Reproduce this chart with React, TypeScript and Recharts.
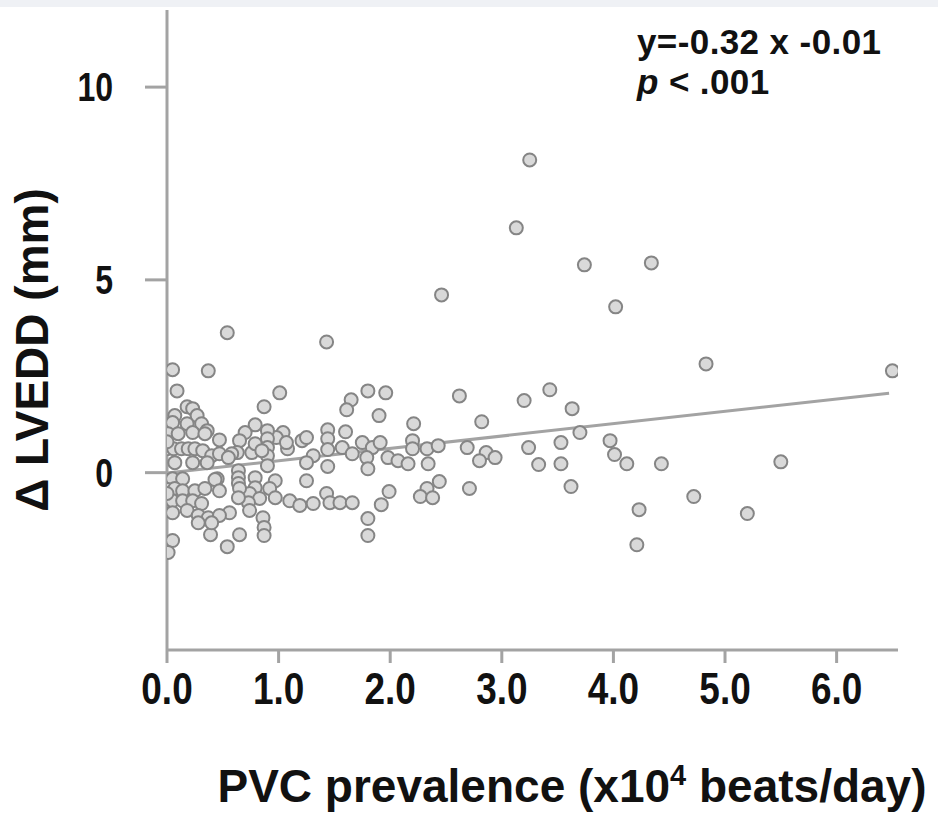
import React from "react";
import {
  ScatterChart,
  Scatter,
  XAxis,
  YAxis,
  ReferenceLine,
} from "recharts";

// PVC prevalence (x10^4 beats/day)
const pvcPrevalence = [
  3.25, 3.13, 3.74, 4.34, 2.46, 4.02, 4.83, 6.5, 0.54, 1.43,
  0.05, 0.37, 0.09, 1.01, 0.87, 1.8, 1.96, 1.65, 1.61, 0.18,
  0.23, 0.07, 0.27, 1.9, 2.21, 2.62, 3.2, 3.43, 3.63, 2.82,
  3.7, 2.69, 2.86, 2.8, 2.94, 3.24, 3.33, 3.53, 3.53, 3.97,
  4.01, 4.12, 4.43, 3.62, 4.23, 4.21, 4.72, 5.2, 5.5, 2.71,
  2.44, 2.33, 2.27, 2.38, 1.99, 1.92, 1.8, 1.8, 2.2, 2.2,
  2.33, 2.34, 2.43, 1.98, 2.07, 2.16, 1.44, 1.44, 1.6, 1.21,
  1.25, 1.08, 1.04, 1.31, 1.25, 1.44, 1.57, 1.44, 1.66, 1.75,
  1.84, 1.91, 1.79, 1.8, 0.98, 1.07, 0.9, 0.9, 0.9, 0.9,
  0.9, 0.79, 0.7, 0.65, 0.63, 0.76, 0.79, 1.25, 0.97, 0.92,
  0.97, 1.1, 1.19, 1.31, 1.43, 1.46, 1.55, 1.66, 0.79, 0.79,
  0.74, 0.83, 0.86, 0.87, 0.87, 0.64, 0.64, 0.64, 0.65, 0.45,
  0.65, 0.54, 0.39, 0.73, 0.64, 0.56, 0.74, 0.05, 0.18, 0.31,
  0.36, 0.01, 0.1, 0.23, 0.47, 0.34, 0.0, 0.06, 0.13, 0.19,
  0.25, 0.32, 0.4, 0.47, 0.58, 0.07, 0.23, 0.36, 0.55, 0.0,
  0.85, 0.0, 0.05, 0.14, 0.43, 0.01, 0.07, 0.14, 0.25, 0.34,
  0.47, 0.0, 0.05, 0.14, 0.23, 0.31, 0.05, 0.18, 0.28, 0.37,
  0.47, 0.28, 0.4, 0.05, 0.01, 0.0,
];

// change in LVEDD (mm), same order
const deltaLvedd = [
  8.11, 6.35, 5.39, 5.44, 4.61, 4.3, 2.82, 2.64, 3.63, 3.39,
  2.67, 2.64, 2.12, 2.07, 1.71, 2.12, 2.07, 1.89, 1.63, 1.71,
  1.66, 1.48, 1.48, 1.48, 1.27, 1.99, 1.87, 2.15, 1.66, 1.32,
  1.04, 0.65, 0.52, 0.31, 0.39, 0.65, 0.21, 0.78, 0.23, 0.83,
  0.47, 0.23, 0.23, -0.36, -0.96, -1.87, -0.62, -1.06, 0.28, -0.41,
  -0.23, -0.41, -0.62, -0.65, -0.49, -0.83, -1.19, -1.63, 0.83, 0.62,
  0.62, 0.23, 0.7, 0.39, 0.31, 0.23, 1.11, 0.88, 1.06, 0.83,
  0.91, 0.62, 1.04, 0.44, 0.26, 0.6, 0.65, 0.16, 0.49, 0.78,
  0.65, 0.78, 0.39, 0.1, 0.91, 0.78, 1.09, 0.88, 0.65, 0.44,
  0.18, 1.24, 1.04, 0.83, 0.52, 0.52, 0.75, -0.21, -0.21, -0.41,
  -0.65, -0.73, -0.85, -0.8, -0.54, -0.78, -0.78, -0.78, -0.13, -0.39,
  -0.54, -0.67, -1.17, -1.42, -1.63, 0.05, -0.13, -0.28, -0.41, -0.16,
  -1.61, -1.92, -1.61, -0.78, -0.65, -1.04, -0.98, 1.3, 1.27, 1.27,
  1.09, 1.01, 1.01, 1.04, 0.85, 1.01, 0.62, 0.62, 0.62, 0.62,
  0.62, 0.57, 0.44, 0.49, 0.49, 0.26, 0.26, 0.26, 0.39, 0.8,
  0.57, -0.21, -0.16, -0.16, -0.18, -0.44, -0.41, -0.47, -0.47, -0.41,
  -0.47, -0.73, -0.73, -0.73, -0.73, -0.8, -1.04, -0.98, -1.11, -1.17,
  -1.11, -1.3, -1.3, -1.76, -2.07, -0.54,
];

// fitted line end points
const fitX = [0, 6.47];
const fitY = [-0.01, 2.06];

const xTicks = [0, 1, 2, 3, 4, 5, 6];
const yTicks = [0, 5, 10];

const points = pvcPrevalence.map((x, i) => ({ x, y: deltaLvedd[i] }));

const FONT = '"Liberation Sans", Arial, sans-serif';
const AXIS = "#a3a3a3";

const dot = (p: any) => (
  <circle cx={p.cx} cy={p.cy} r={6.5} fill="#d9d9d9" stroke="#858585" strokeWidth={2} />
);

// tick labels in the source look a bit condensed, so squeeze them horizontally
const XTick = (p: any) => (
  <g transform={`translate(${p.x},${p.y}) scale(0.84,1)`}>
    <text x={0} y={0} dy={31} textAnchor="middle" fontSize={44} fontWeight={700} fill="#111" fontFamily={FONT}>
      {p.payload.value.toFixed(1)}
    </text>
  </g>
);

const YTick = (p: any) => (
  <g transform={`translate(${p.x},${p.y}) scale(0.8,1)`}>
    <text x={0} y={0} dy={14} textAnchor="end" fontSize={40} fontWeight={700} fill="#111" fontFamily={FONT}>
      {p.payload.value}
    </text>
  </g>
);

export default function App() {
  return (
    <div style={{ position: "absolute", left: 0, top: 0, width: 938, height: 826, background: "#fff" }}>
      <div style={{ position: "absolute", left: 0, top: 0, width: 938, height: 7, background: "#eff1f5" }} />
      <ScatterChart width={938} height={826} margin={{ top: 10, right: 40, bottom: 0, left: 0 }}>
        <XAxis
          type="number"
          dataKey="x"
          domain={[0, 6.55]}
          ticks={xTicks}
          height={176}
          tickSize={13}
          tickMargin={10}
          axisLine={{ stroke: AXIS, strokeWidth: 3 }}
          tickLine={{ stroke: AXIS, strokeWidth: 3 }}
          tick={<XTick />}
          allowDataOverflow
        />
        <YAxis
          type="number"
          dataKey="y"
          domain={[-4.6, 12]}
          ticks={yTicks}
          width={167}
          tickSize={22}
          tickMargin={32}
          axisLine={{ stroke: AXIS, strokeWidth: 3 }}
          tickLine={{ stroke: AXIS, strokeWidth: 3 }}
          tick={<YTick />}
          allowDataOverflow
        />
        <ReferenceLine
          segment={[
            { x: fitX[0], y: fitY[0] },
            { x: fitX[1], y: fitY[1] },
          ]}
          stroke={AXIS}
          strokeWidth={3}
        />
        <Scatter data={points} shape={dot} isAnimationActive={false} />
      </ScatterChart>
      <svg
        width={938}
        height={826}
        style={{ position: "absolute", left: 0, top: 0, pointerEvents: "none" }}
        fontFamily={FONT}
        fontWeight={700}
        fill="#111"
      >
        <text x={637} y={54} fontSize={35} letterSpacing={0.4}>
          y=-0.32 x -0.01
        </text>
        <text x={637} y={94} fontSize={35} letterSpacing={0.4}>
          <tspan fontStyle="italic">p</tspan> &lt; .001
        </text>
        <text x={48} y={350} fontSize={46} textAnchor="middle" transform="rotate(-90 48 350)">
          Δ LVEDD (mm)
        </text>
        <text x={572} y={802} fontSize={46} textAnchor="middle">
          PVC prevalence (x10
          <tspan fontSize={29} dy={-17}>4</tspan>
          <tspan dy={17}> beats/day)</tspan>
        </text>
      </svg>
    </div>
  );
}
